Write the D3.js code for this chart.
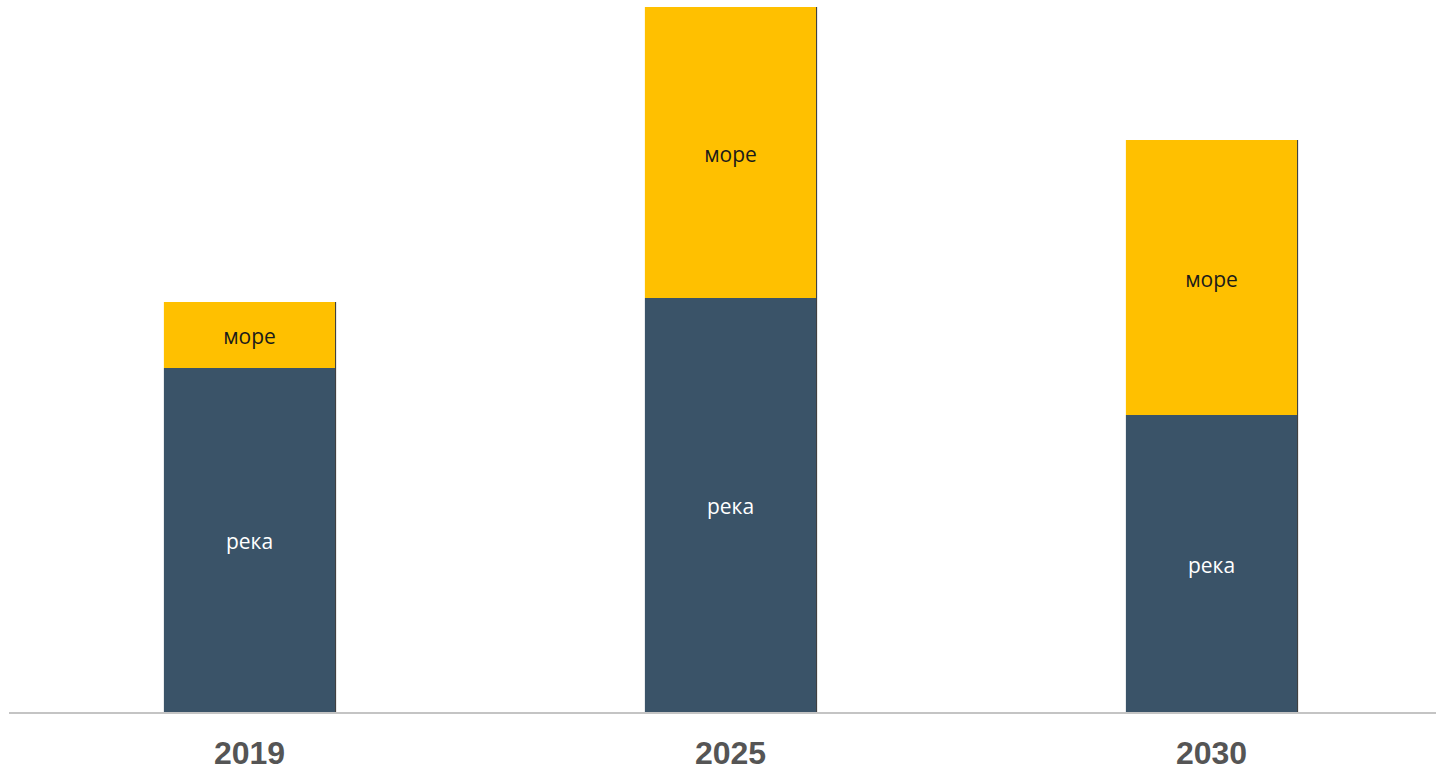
<!DOCTYPE html>
<html>
<head>
<meta charset="utf-8">
<script src="https://cdn.jsdelivr.net/npm/d3@7"></script>
<style>
  body { margin: 0; background: #fff; }
</style>
</head>
<body>
<svg id="chart"></svg>
<script>
// data (arbitrary units)
const years = ['2019', '2025', '2030'];
const river = [344, 414, 297];
const sea = [66, 291, 275];
const seriesKeys = ['river', 'sea'];
const seriesLabels = { river: 'река', sea: 'море' };

const width = 1436;
const height = 772;

const svg = d3.select('#chart')
  .attr('width', width)
  .attr('height', height);

const rows = years.map((y, i) => ({ year: y, river: river[i], sea: sea[i] }));
const stacked = d3.stack().keys(seriesKeys)(rows);

const x = d3.scaleBand()
  .domain(years)
  .range([9, 1452])
  .paddingInner(0.644)
  .paddingOuter(0.322);

const y = d3.scaleLinear()
  .domain([0, 705])
  .range([712, 7]);

const color = d3.scaleOrdinal()
  .domain(seriesKeys)
  .range(['#3a5368', '#ffc000']);

const textColor = { river: '#ffffff', sea: '#1a1a1a' };

const layers = svg.append('g')
  .attr('class', 'bars')
  .selectAll('g')
  .data(stacked)
  .enter().append('g')
    .attr('fill', d => color(d.key));

layers.selectAll('rect')
  .data(d => d)
  .enter().append('rect')
    .attr('x', d => x(d.data.year))
    .attr('y', d => y(d[1]))
    .attr('width', x.bandwidth())
    .attr('height', d => y(d[0]) - y(d[1]));

// thin dark edge on the right side of each bar
svg.append('g')
  .selectAll('line')
  .data(stacked[stacked.length - 1])
  .enter().append('line')
    .attr('x1', d => x(d.data.year) + x.bandwidth() + 0.5)
    .attr('x2', d => x(d.data.year) + x.bandwidth() + 0.5)
    .attr('y1', d => y(d[1]))
    .attr('y2', y(0))
    .attr('stroke', '#2b2b2b')
    .attr('stroke-width', 1);

// labels inside the segments
stacked.forEach(layer => {
  svg.append('g')
    .selectAll('text')
    .data(layer)
    .enter().append('text')
      .attr('x', d => x(d.data.year) + x.bandwidth() / 2)
      .attr('y', d => (y(d[0]) + y(d[1])) / 2)
      .attr('dy', '0.45em')
      .attr('text-anchor', 'middle')
      .attr('font-family', '"Open Sans", "Noto Sans", sans-serif')
      .attr('font-size', 21)
      .attr('fill', textColor[layer.key])
      .text(seriesLabels[layer.key]);
});

// baseline + year axis
const axis = svg.append('g')
  .attr('transform', `translate(0, ${y(0) + 1})`)
  .call(d3.axisBottom(x).tickSize(0));

axis.select('.domain')
  .attr('d', `M9,0H${width}`)
  .attr('stroke', '#c4c4c4')
  .attr('stroke-width', 2);

axis.selectAll('text')
  .attr('y', 51)
  .attr('dy', 0)
  .attr('font-family', '"Liberation Sans", Arial, sans-serif')
  .attr('font-weight', 'bold')
  .attr('font-size', 32)
  .attr('fill', '#555555');
</script>
</body>
</html>
